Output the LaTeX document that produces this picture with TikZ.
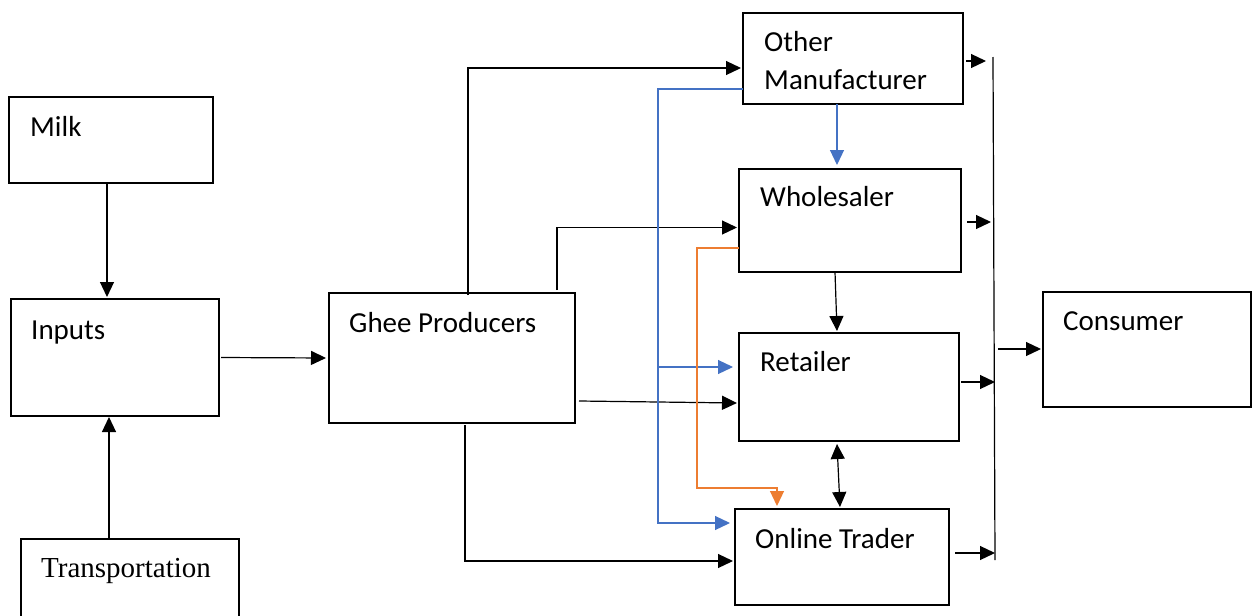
\documentclass[tikz,border=0pt]{standalone}
\usepackage{fontspec}
\setmainfont{Carlito}
\newfontfamily\timesfont{Liberation Serif}
\usetikzlibrary{arrows.meta,calc}
\definecolor{offblue}{HTML}{4472C4}
\definecolor{offorange}{HTML}{ED7D31}
\begin{document}
\begin{tikzpicture}[x=1pt,y=-1pt,
  box/.style={draw,line width=1.2pt,inner sep=0pt,outer sep=0pt,anchor=north west},
  txt/.style={anchor=base west,inner sep=0pt,font=\fontsize{29}{34}\selectfont},
  arr/.style={line width=1.2pt,-{Triangle[length=15pt,width=14pt]}},
  darr/.style={line width=1.2pt,{Triangle[length=15pt,width=14pt]}-{Triangle[length=15pt,width=14pt]}},
  barr/.style={arr,draw=offblue},
  oarr/.style={arr,draw=offorange}]
\useasboundingbox (0,0) rectangle (1259,616);
% boxes
\node[box,minimum width=204pt,minimum height=86pt] (milk) at (9,97) {};
\node[box,minimum width=208pt,minimum height=117pt] (inputs) at (11,299) {};
\node[box,minimum width=218pt,minimum height=90pt] (trans) at (21,539) {};
\node[box,minimum width=246pt,minimum height=130pt] (ghee) at (329,293) {};
\node[box,minimum width=220pt,minimum height=91pt] (other) at (743,13) {};
\node[box,minimum width=222pt,minimum height=103pt] (whole) at (739,169) {};
\node[box,minimum width=220pt,minimum height=108pt] (ret) at (739,333) {};
\node[box,minimum width=214pt,minimum height=96pt] (online) at (735,509) {};
\node[box,minimum width=208pt,minimum height=115pt] (cons) at (1043,292) {};
% texts
\node[txt] (milkt) at (30,136) {Milk};
\node[txt] (inputst) at (31,339) {Inputs};
\node[txt,font=\timesfont\fontsize{29}{34}\selectfont] (transt) at (41,577) {Transportation};
\node[txt] (gheet) at (349,332) {Ghee Producers};
\node[txt] (othert1) at (764,51) {Other};
\node[txt] (othert2) at (764,89) {Manufacturer};
\node[txt] (wholet) at (760,206) {Wholesaler};
\node[txt] (rett) at (760,371) {Retailer};
\node[txt] (onlinet) at (755,548) {Online Trader};
\node[txt] (const) at (1063,330) {Consumer};
% left chain
\draw[arr] ([xshift=-4pt]milk.south) -- ([xshift=-8pt,yshift=2pt]inputs.north);
\draw[arr] ([xshift=-21pt]trans.north) -- ([xshift=-6pt,yshift=-1pt]inputs.south);
\draw[arr,shorten <=2pt,shorten >=3pt] (inputs.east) -- (ghee.west);
% ghee producers out
\draw[arr] ([xshift=16pt,yshift=-2pt]ghee.north) |- ([xshift=-2pt,yshift=-9.5pt]other.west);
\draw[arr] ([xshift=105pt,yshift=3pt]ghee.north) |- ([xshift=-2pt,yshift=-7pt]whole.west);
\draw[arr] ([xshift=4pt,yshift=-43pt]ghee.east) -- ([xshift=-2pt,yshift=-16pt]ret.west);
\draw[arr] ([xshift=13pt,yshift=-2pt]ghee.south) |- ([xshift=-2pt,yshift=-4pt]online.west);
% blue
\coordinate (bl) at (658,523);
\coordinate (br) at (657,367);
\draw[barr] ([xshift=-16pt]other.south) -- ([xshift=-13pt,yshift=4pt]whole.north);
\draw[barr,shorten >=5pt] ([yshift=-30.5pt]other.west) -| (bl) -- (bl -| online.west);
\draw[barr,shorten >=6pt] (br) -- (br -| ret.west);
% orange
\coordinate (oc) at (697,488);
\draw[oarr] ([yshift=-27.5pt]whole.west) -| (oc) -| ([xshift=-65pt,yshift=3pt]online.north);
% vertical chain
\draw[arr] ([xshift=-15pt]whole.south) -- ([xshift=-12pt,yshift=2pt]ret.north);
\draw[darr] ([xshift=-12pt,yshift=-3pt]ret.south) -- ([xshift=-2pt,yshift=2pt]online.north);
% bus
\coordinate (bt) at (993,57);
\coordinate (bb) at (995,560);
\draw[line width=1.2pt] (bt) -- (bb);
\coordinate (b1) at (993,61);
\coordinate (b2) at (993,222);
\coordinate (b3) at (995,382);
\coordinate (b4) at (995,553);
\coordinate (b5) at (994,349);
\draw[arr,shorten <=3pt,shorten >=7pt] (other.east |- b1) -- (b1);
\draw[arr,shorten <=6pt,shorten >=2pt] (whole.east |- b2) -- (b2);
\draw[arr,shorten <=2pt] (ret.east |- b3) -- (b3);
\draw[arr,shorten <=6pt] (online.east |- b4) -- (b4);
\draw[arr,shorten <=4pt,shorten >=2pt] (b5) -- (b5 -| cons.west);
\end{tikzpicture}
\end{document}
